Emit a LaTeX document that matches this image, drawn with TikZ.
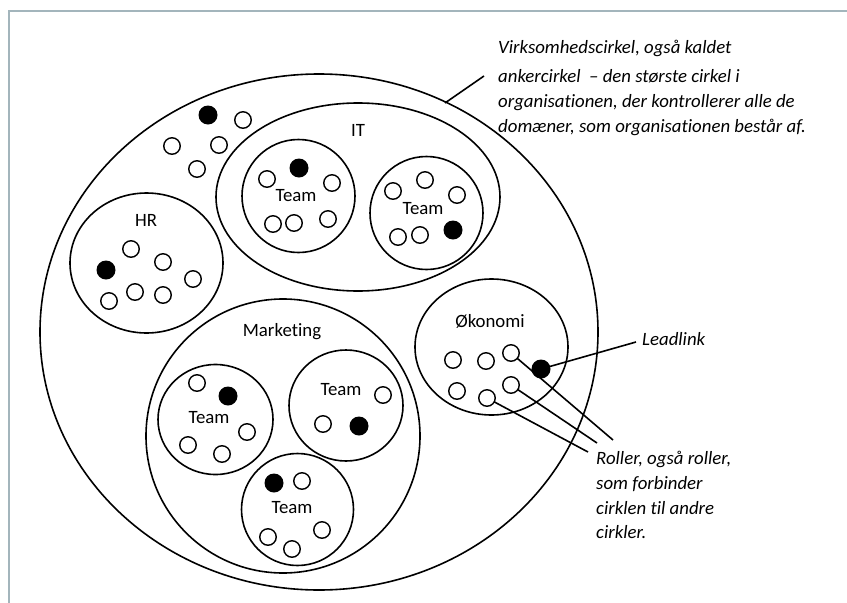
\documentclass[tikz,border=0pt]{standalone}
\usepackage{fontspec}
\setmainfont{Carlito}[Ligatures=NoCommon]
\usetikzlibrary{shapes.geometric}
\definecolor{framec}{HTML}{A3B5BC}
\begin{document}
\begin{tikzpicture}[x=1pt,y=-1pt,
  lw/.style={line width=1.6pt},
  bigc/.style={draw,lw,circle,inner sep=0pt,outer sep=0pt},
  bige/.style={draw,lw,ellipse,inner sep=0pt,outer sep=0pt},
  role/.style={draw,line width=1.4pt,circle,inner sep=0pt,outer sep=0pt,minimum size=16.5pt},
  lead/.style={fill=black,circle,inner sep=0pt,outer sep=0pt,minimum size=19pt},
  lbl/.style={anchor=base,inner sep=0pt,font=\fontsize{18.8}{22}\selectfont},
  note/.style={anchor=north west,inner sep=0pt,align=left,font=\fontsize{18.8}{24.8}\selectfont\itshape},
  conn/.style={lw}]
\useasboundingbox (0,0) rectangle (847,603);
% frame
\draw[framec,line width=2pt] (9,603) -- (9,11) -- (847,11);

% outer circle
\node[bige,minimum width=558pt,minimum height=516pt] (outer) at (319,332) {};

% loose roles in outer circle
\node[lead] (o1) at (208,115) {};
\node[role] (o2) at (243,120) {};
\node[role] (o3) at (172,146) {};
\node[role] (o4) at (219,145) {};
\node[role] (o5) at (197,169) {};

% IT
\node[bige,minimum width=284pt,minimum height=188pt] (it) at (358,197) {};
\node[lbl] (itl) at (358,136) {IT};
\node[bigc,minimum size=113pt] (t1) at (298.5,196) {};
\node[lbl] (t1l) at (296,201) {Team};
\node[lead] (t1a) at (299,168) {};
\node[role] (t1b) at (267,179) {};
\node[role] (t1c) at (332,183) {};
\node[role] (t1d) at (273,224) {};
\node[role] (t1e) at (294,223) {};
\node[role] (t1f) at (328,219) {};
\node[bigc,minimum size=113pt] (t2) at (426.5,213) {};
\node[lbl] (t2l) at (423,214) {Team};
\node[role] (t2a) at (393,191) {};
\node[role] (t2b) at (425,180) {};
\node[role] (t2c) at (457,195) {};
\node[role] (t2d) at (398,237) {};
\node[role] (t2e) at (420,235) {};
\node[lead] (t2f) at (453,230) {};

% HR
\node[bige,minimum width=153pt,minimum height=140pt] (hr) at (146.5,263) {};
\node[lbl] (hrl) at (146,226) {HR};
\node[lead] (h1) at (106,270) {};
\node[role] (h2) at (131,249) {};
\node[role] (h3) at (163,262) {};
\node[role] (h4) at (193,279) {};
\node[role] (h5) at (109,301) {};
\node[role] (h6) at (135,292) {};
\node[role] (h7) at (163,295) {};

% Marketing
\node[bigc,minimum size=274pt] (mk) at (283,436) {};
\node[lbl] (mkl) at (282,336) {Marketing};
\node[bige,minimum width=115pt,minimum height=110pt] (ta) at (215.5,419.5) {};
\node[lbl] (tal) at (209,423) {Team};
\node[role] (ta1) at (197,383) {};
\node[lead] (ta2) at (228,396) {};
\node[role] (ta3) at (247,432) {};
\node[role] (ta4) at (188,445) {};
\node[role] (ta5) at (222,454) {};
\node[bige,minimum width=114pt,minimum height=111pt] (tb) at (346,405.5) {};
\node[lbl] (tbl) at (341,395) {Team};
\node[role] (tb1) at (383,395) {};
\node[role] (tb2) at (323,424) {};
\node[lead] (tb3) at (359,426) {};
\node[bigc,minimum size=112pt] (tc) at (297.5,509.5) {};
\node[lbl] (tcl) at (292,513) {Team};
\node[lead] (tc1) at (274,483) {};
\node[role] (tc2) at (302,481) {};
\node[role] (tc3) at (268,537) {};
\node[role] (tc4) at (292,549) {};
\node[role] (tc5) at (322,530) {};

% Oekonomi
\node[bige,minimum width=153pt,minimum height=136pt] (ok) at (491.5,347) {};
\node[lbl] (okl) at (490,327) {Økonomi};
\node[role] (k1) at (453,360) {};
\node[role] (k2) at (486,361) {};
\node[role] (k3) at (511,353) {};
\node[role] (k4) at (457,391) {};
\node[role] (k5) at (487,398) {};
\node[role] (k6) at (511,385) {};
\node[lead] (k7) at (541,369) {};

% annotations
\node[note] (anote) at (498,39.5) {Virksomhedscirkel, også kaldet\\[5pt]ankercirkel\ \ – den største cirkel i\\organisationen, der kontrollerer alle de\\domæner, som organisationen består af.};
\coordinate (a1) at (445,103);
\coordinate (a2) at (484,76);
\draw[conn] (a1) -- (a2);

\node[note,anchor=base west] (lnote) at (642,345) {Leadlink};
\coordinate (l1) at (636,342);
\draw[conn] (k7) -- (l1);

\node[note] (rnote) at (596,451) {Roller, også roller,\\som forbinder\\cirklen til andre\\cirkler.};
\coordinate (r1) at (613,440);
\coordinate (r2) at (597,443);
\coordinate (r3) at (588,452);
\draw[conn] (k3) -- (r1);
\draw[conn] (k6) -- (r2);
\draw[conn] (k5) -- (r3);
\end{tikzpicture}
\end{document}
